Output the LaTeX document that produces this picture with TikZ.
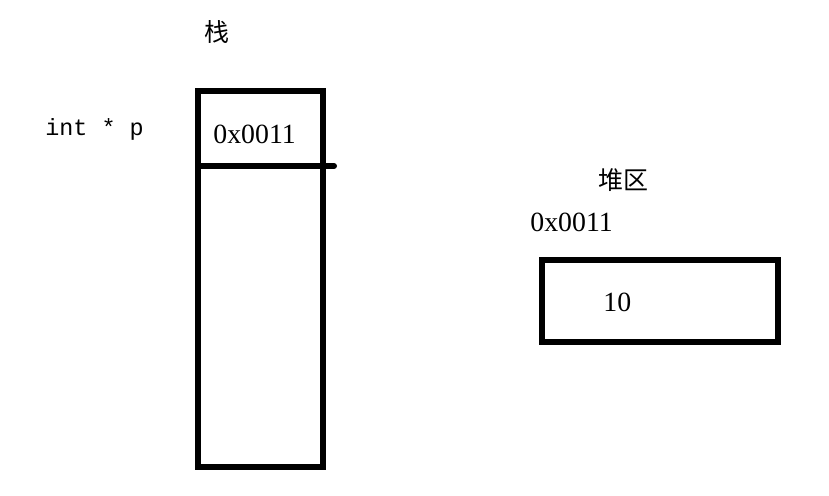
\documentclass[tikz,border=0pt]{standalone}
\usepackage{fontspec}
\setmainfont{Liberation Serif}
\setmonofont{Liberation Mono}
\newfontfamily\cjk{Noto Sans CJK SC}
\usetikzlibrary{positioning}

\tikzset{
  membox/.style={draw,line width=3.2pt,inner sep=0pt},
  addr/.style={anchor=base west,inner sep=0pt,font=\fontsize{13.9}{16}\selectfont},
  title/.style={inner sep=0pt,font=\cjk\fontsize{12.5}{15}\selectfont}
}

\begin{document}
\begin{tikzpicture}[x=0.5pt,y=-0.5pt]
\useasboundingbox (0,0) rectangle (829,495);
% stack
\node[title] (stacktitle) at (217,32) {栈};
\node[membox,minimum width=62.5pt,minimum height=188pt] (stack) at (260.5,279) {};
\coordinate (divL) at (198,166);
\coordinate (divR) at (334,166);
\draw[line width=3pt,line cap=round] (divL) -- (divR);
\node[addr] (paddr) at (213,143) {0x0011};
\node[anchor=base west,inner sep=0pt,font=\ttfamily\fontsize{11.7}{14}\selectfont] (pvar) at (45,135) {int * p};
% heap
\node[title] (heaptitle) at (623,180) {堆区};
\node[addr] (haddr) at (530,231) {0x0011};
\node[membox,minimum width=118pt,minimum height=41pt] (heap) at (660,301) {};
\node[addr] (val) at (603,311) {10};
\end{tikzpicture}
\end{document}
